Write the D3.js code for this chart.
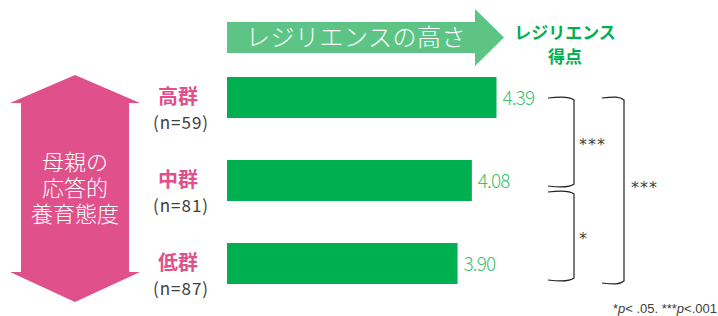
<!DOCTYPE html>
<html>
<head>
<meta charset="utf-8">
<script src="https://cdn.jsdelivr.net/npm/d3@7"></script>
<style>
  body { margin: 0; background: #fff; }
  svg { display: block; font-family: "Noto Sans CJK JP", "Noto Sans", sans-serif; }
</style>
</head>
<body>
<div id="chart"></div>
<script>
const groups = ["高群", "中群", "低群"];
const counts = [59, 81, 87];
const scores = [4.39, 4.08, 3.90];
const sigPairs = [["高群", "中群", "***"], ["中群", "低群", "*"]];
const sigOuter = ["高群", "低群", "***"];

const W = 718, H = 316;
const barGreen = "#00b050", lightGreen = "#5ec486", labelGreen = "#3dbf6e", pink = "#e0508a";

const svg = d3.select("#chart").append("svg")
  .attr("width", W).attr("height", H);

const x = d3.scaleLinear().domain([1, 5]).range([227, 545]);
const y = d3.scaleBand().domain(groups).range([56, 305])
  .paddingInner(0.506).paddingOuter(0.253);
const mid = g => y(g) + y.bandwidth() / 2;

// top arrow "レジリエンスの高さ"
svg.append("path")
  .attr("d", "M227,22 L475,22 L475,9 L504,37.5 L475,66 L475,53 L227,53 Z")
  .attr("fill", lightGreen);
svg.append("text")
  .attr("x", 246).attr("y", 46)
  .attr("font-size", 24).attr("font-weight", 300)
  .attr("fill", "#fff").attr("letter-spacing", 0.5)
  .text("レジリエンスの高さ");

const head = svg.append("text")
  .attr("text-anchor", "middle")
  .attr("font-size", 17).attr("font-weight", 700).attr("fill", barGreen);
head.append("tspan").attr("x", 565).attr("y", 39).text("レジリエンス");
head.append("tspan").attr("x", 565).attr("dy", 24).text("得点");

// pink double arrow
svg.append("path")
  .attr("d", "M75,75 L140,103 L129,103 L129,272 L140,272 L75,302 L10,272 L21,272 L21,103 L10,103 Z")
  .attr("fill", pink);
const arrowText = ["母親の", "応答的", "養育態度"];
svg.append("text")
  .attr("text-anchor", "middle")
  .attr("font-size", 22).attr("font-weight", 300).attr("fill", "#fff")
  .selectAll("tspan").data(arrowText).enter().append("tspan")
  .attr("x", 75)
  .attr("y", (d, i) => 170 + i * 26)
  .text(d => d);

// bars
svg.selectAll("rect.bar").data(scores).enter().append("rect")
  .attr("class", "bar")
  .attr("x", x(1))
  .attr("y", (d, i) => y(groups[i]))
  .attr("width", d => x(d) - x(1))
  .attr("height", y.bandwidth())
  .attr("fill", barGreen);

svg.selectAll("text.val").data(scores).enter().append("text")
  .attr("class", "val")
  .attr("x", d => x(d) + 6)
  .attr("y", (d, i) => mid(groups[i]) + 7)
  .attr("font-size", 19).attr("font-weight", 300)
  .attr("letter-spacing", -0.9)
  .attr("fill", labelGreen)
  .text(d => d.toFixed(2));

// group labels
svg.selectAll("text.grp").data(groups).enter().append("text")
  .attr("class", "grp")
  .attr("x", 178).attr("y", d => mid(d) + 6)
  .attr("text-anchor", "middle")
  .attr("font-size", 20).attr("font-weight", 700).attr("fill", pink)
  .text(d => d);
svg.selectAll("text.n").data(counts).enter().append("text")
  .attr("class", "n")
  .attr("x", 181).attr("y", (d, i) => mid(groups[i]) + 31)
  .attr("text-anchor", "middle")
  .attr("font-size", 17).attr("letter-spacing", 1).attr("fill", "#404040")
  .text(d => "(n=" + d + ")");

// significance brackets
function bracket(x0, x1, yt, yb) {
  return `M${x0},${yt} C${x0 + 12},${yt - 1.5} ${x1 - 4},${yt - 1.5} ${x1},${yt + 2}` +
    ` L${x1},${yb - 2} C${x1 - 4},${yb + 1.5} ${x0 + 12},${yb + 1.5} ${x0},${yb}`;
}
const br = [
  [mid(sigPairs[0][0]) + 0.5, mid(sigPairs[0][1]) + 5.5, sigPairs[0][2]],
  [mid(sigPairs[1][0]) + 11.5, mid(sigPairs[1][1]) + 16.5, sigPairs[1][2]]
];
br.forEach(b => {
  svg.append("path").attr("d", bracket(548, 574, b[0], b[1]))
    .attr("fill", "none").attr("stroke", "#222").attr("stroke-width", 1.2);
  svg.append("text")
    .attr("x", 579).attr("y", (b[0] + b[1]) / 2 + 8)
    .attr("font-size", 16).attr("fill", "#404040")
    .attr("font-family", "'DejaVu Sans', sans-serif")
    .attr("letter-spacing", 1)
    .text(b[2]);
});
const ot = mid(sigOuter[0]) + 0.5, ob = mid(sigOuter[1]) + 19.5;
svg.append("path").attr("d", bracket(602, 624, ot, ob))
  .attr("fill", "none").attr("stroke", "#222").attr("stroke-width", 1.2);
svg.append("text")
  .attr("x", 631).attr("y", mid("中群") + 12)
  .attr("font-size", 16).attr("fill", "#404040")
  .attr("font-family", "'DejaVu Sans', sans-serif")
  .attr("letter-spacing", 1)
  .text(sigOuter[2]);

// footnote
const fn = svg.append("text")
  .attr("x", 717).attr("y", 313).attr("text-anchor", "end")
  .attr("font-size", 13).attr("fill", "#404040")
  .attr("font-family", "'Liberation Sans', sans-serif");
fn.append("tspan").text("*");
fn.append("tspan").attr("font-style", "italic").text("p");
fn.append("tspan").text("< .05. ***");
fn.append("tspan").attr("font-style", "italic").text("p");
fn.append("tspan").text("<.001");
</script>
</body>
</html>
